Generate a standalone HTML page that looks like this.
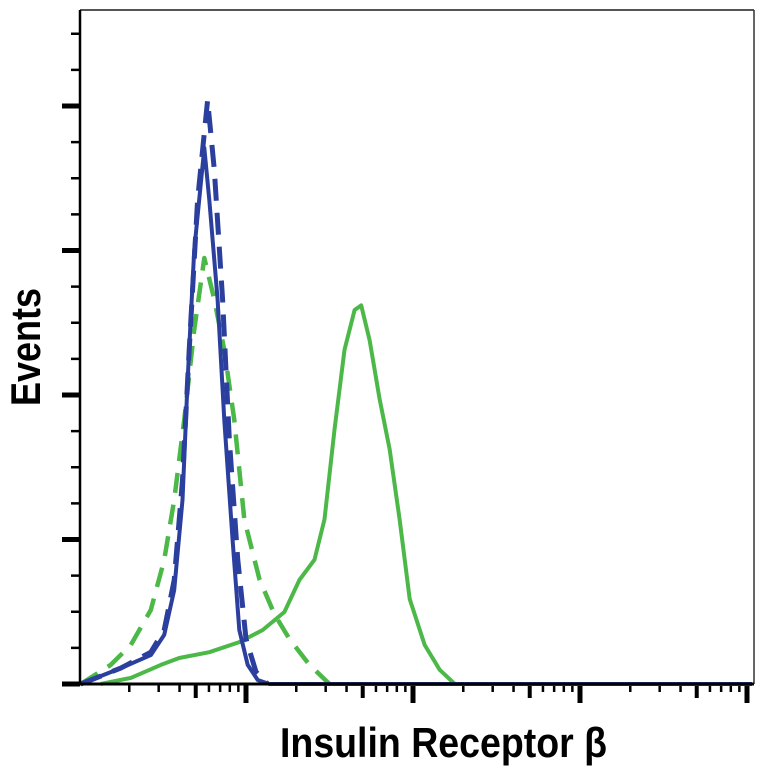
<!DOCTYPE html>
<html><head><meta charset="utf-8">
<style>
html,body{margin:0;padding:0;background:#fff;}
svg{display:block;}
</style></head>
<body>
<svg id="chart" width="764" height="768" viewBox="0 0 764 768" xmlns="http://www.w3.org/2000/svg">
<rect x="0" y="0" width="764" height="768" fill="#fff"/>
<g id="ticks"></g>
<g id="series"></g>
<line x1="80" y1="10" x2="754" y2="10" stroke="#555" stroke-width="2"/>
<line x1="754" y1="10" x2="754" y2="684" stroke="#333" stroke-width="1.5"/>
<line x1="80" y1="10" x2="80" y2="685" stroke="#000" stroke-width="2.5"/>
<line x1="79" y1="684" x2="754" y2="684" stroke="#000" stroke-width="3"/>
<text x="280" y="757" font-family="'Liberation Sans Narrow','Liberation Sans',sans-serif" font-weight="bold" font-size="42" textLength="327" lengthAdjust="spacingAndGlyphs" fill="#000">Insulin Receptor β</text>
<text transform="translate(40,406) rotate(-90)" x="0" y="0" font-family="'Liberation Sans Narrow','Liberation Sans',sans-serif" font-weight="bold" font-size="42" textLength="118" lengthAdjust="spacingAndGlyphs" fill="#000">Events</text>
</svg>
<script>
// log10 intensity (decade position) and event counts
const blueSolidX = [0.01,0.25,0.43,0.51,0.57,0.62,0.65,0.69,0.75,0.78,0.83,0.87,0.92,0.96,1.01,1.07,1.14,4.03];
const blueSolidY = [0,5.5,10,17,32.5,63.7,105,150,185.5,167.5,133,91.3,49.8,18.7,6.6,1.4,0,0];
const blueDashX = [0.01,0.25,0.43,0.51,0.57,0.62,0.66,0.71,0.77,0.81,0.86,0.90,0.95,1.00,1.06,1.13];
const blueDashY = [0,5.5,11,18.7,36,70.6,115.6,167.5,202,178,133,84.8,43.3,15.6,4.2,0];
const greenDashX = [0.01,0.19,0.31,0.43,0.51,0.57,0.63,0.69,0.75,0.81,0.87,0.93,0.99,1.08,1.17,1.26,1.38,1.50];
const greenDashY = [0,6.6,13.5,25.6,42.9,63.7,91.3,122.5,147.4,133,115.6,91.3,57,36.3,24.2,15.6,6.6,0];
const greenSolidX = [0.13,0.31,0.49,0.60,0.78,0.96,1.10,1.23,1.32,1.41,1.47,1.53,1.59,1.65,1.69,1.74,1.80,1.86,1.92,1.98,2.07,2.16,2.25,4.03];
const greenSolidY = [0,2.1,6.6,9,11,14.5,18.7,24.9,36,43,57,88,115.6,129.4,131,119,98.6,81.3,57,29.4,13.5,4.9,0,0];
const yMajorTicks = [0,50,100,150,200];
const yMinorTicks = [12.5,25,37.5,62.5,75,87.5,112.5,125,137.5,162.5,175,187.5,212.5,225];
const xDecades = [0,1,2,3,4];

const X0=79, DEC=167, Y0=684, PPU=2.89;
function sx(d){return X0+d*DEC;}
function sy(v){return Y0-v*PPU;}
const NS='http://www.w3.org/2000/svg';
const tg=document.getElementById('ticks');
function line(x1,y1,x2,y2,w){const l=document.createElementNS(NS,'line');l.setAttribute('x1',x1);l.setAttribute('y1',y1);l.setAttribute('x2',x2);l.setAttribute('y2',y2);l.setAttribute('stroke','#000');l.setAttribute('stroke-width',w);tg.appendChild(l);return l;}
yMajorTicks.forEach(v=>{const l=line(62,sy(v),80,sy(v),5);

});
yMinorTicks.forEach(v=>{const l=line(71,sy(v),80,sy(v),2.5);

});
xDecades.forEach(d=>{
  for(let m=1;m<10;m++){
    const p=d+Math.log10(m);
    if(p>4.05) break;
    const x=sx(p);
    if(m===1 && d===0) continue;
    const len=m===1?19:(m===5?14:8);
    const w=m===1?5:(m===5?4:2.5);
    const l=line(x,684,x,684+len,w);
    
    
  }
});
const sg=document.getElementById('series');
function drawSeries(xs,ys,color,dash,width,name){
  const p=document.createElementNS(NS,'path');
  p.setAttribute('d',xs.map((x,i)=>(i?'L':'M')+sx(x).toFixed(1)+','+sy(ys[i]).toFixed(1)).join(''));
  p.setAttribute('fill','none');p.setAttribute('stroke',color);p.setAttribute('stroke-width',width);
  p.setAttribute('stroke-linejoin','round');
  if(dash)p.setAttribute('stroke-dasharray',dash);
  
  
  sg.appendChild(p);
}
drawSeries(greenDashX,greenDashY,'#4cb848','20 12',4.5,'green-dashed-series');
drawSeries(greenSolidX,greenSolidY,'#4cb848',null,4,'green-solid-series');
drawSeries(blueDashX,blueDashY,'#2b3f9e','22 12',5,'blue-dashed-series');
drawSeries(blueSolidX,blueSolidY,'#2b3f9e',null,4,'blue-solid-series');
</script>
</body></html>
